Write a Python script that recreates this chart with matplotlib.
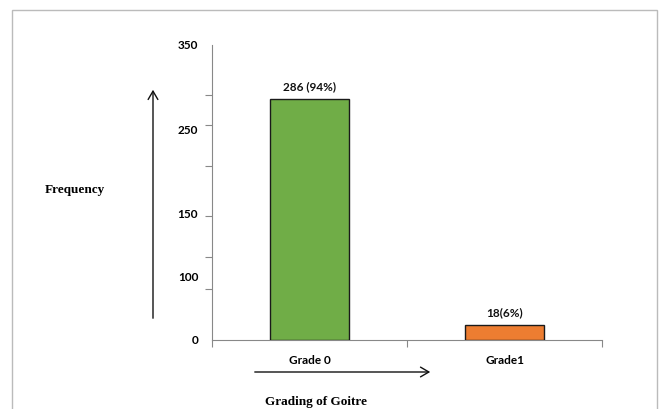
import matplotlib
matplotlib.use("Agg")
import matplotlib.pyplot as plt
from matplotlib.patches import FancyArrowPatch, Rectangle

# Goitre grading counts
categories = ["Grade 0", "Grade1"]
counts = [286, 18]
bar_labels = ["286 (94%)", "18(6%)"]
colors = ["#70AD47", "#ED7D31"]

# y-axis labelling
ytick_values = [0, 75, 150, 250, 350]
ytick_labels = ["0", "100", "150", "250", "350"]
ytick_marks = [0, 61, 98, 147, 206, 255, 291, 350]

W, H = 661, 409
fig = plt.figure(figsize=(W / 100, H / 100), dpi=100)
ax = fig.add_axes([212 / W, 69 / H, 390 / W, 295 / H])

x = list(range(len(categories)))
ax.bar(x, counts, width=0.405, color=colors, edgecolor="#1a1a1a", linewidth=1.0, zorder=3)

tick_font = dict(family="Lato", weight="bold", size=8.5)
for xi, v, lab in zip(x, counts, bar_labels):
    ax.text(xi, v + 8, lab, ha="center", va="bottom", color="#111111", **tick_font)

ax.set_xlim(-0.5, 1.5)
ax.set_ylim(0, 350)

ax.set_yticks(ytick_values)
ax.set_yticklabels(ytick_labels, **tick_font)
ax.set_yticks(ytick_marks, minor=True)
ax.tick_params(axis="y", which="major", length=0, pad=10)
ax.tick_params(axis="y", which="minor", length=5, color="#888888", width=0.8)

ax.set_xticks([-0.5, 0.5, 1.5], minor=True)
ax.set_xticks(x)
ax.set_xticklabels(categories, **tick_font)
ax.tick_params(axis="x", which="major", length=0, pad=11)
ax.tick_params(axis="x", which="minor", length=5, color="#888888", width=0.8)

for s in ["top", "right"]:
    ax.spines[s].set_visible(False)
for s in ["left", "bottom"]:
    ax.spines[s].set_color("#888888")
    ax.spines[s].set_linewidth(0.8)

# Outer chart frame
fig.add_artist(Rectangle((12 / W, -0.05), (657 - 12) / W, 1.05 - 10 / H,
                         transform=fig.transFigure, fill=False,
                         edgecolor="#bbbbbb", linewidth=1.0))

serif_font = dict(family="Liberation Serif", weight="bold", size=9.5)
fig.text(45 / W, 1 - 190 / H, "Frequency", ha="left", va="center", **serif_font)
fig.text(316 / W, 1 - 402 / H, "Grading of Goitre", ha="center", va="center", **serif_font)

# Direction arrows
fig.add_artist(FancyArrowPatch((153 / W, 1 - 321 / H), (153 / W, 1 - 87 / H),
                               transform=fig.transFigure, arrowstyle="->,head_length=6,head_width=3.5",
                               color="#111111", linewidth=1.0, mutation_scale=1))
fig.add_artist(FancyArrowPatch((252 / W, 1 - 372 / H), (433 / W, 1 - 372 / H),
                               transform=fig.transFigure, arrowstyle="->,head_length=6,head_width=3.5",
                               color="#111111", linewidth=1.0, mutation_scale=1))

fig.savefig("out.png", dpi=100)
